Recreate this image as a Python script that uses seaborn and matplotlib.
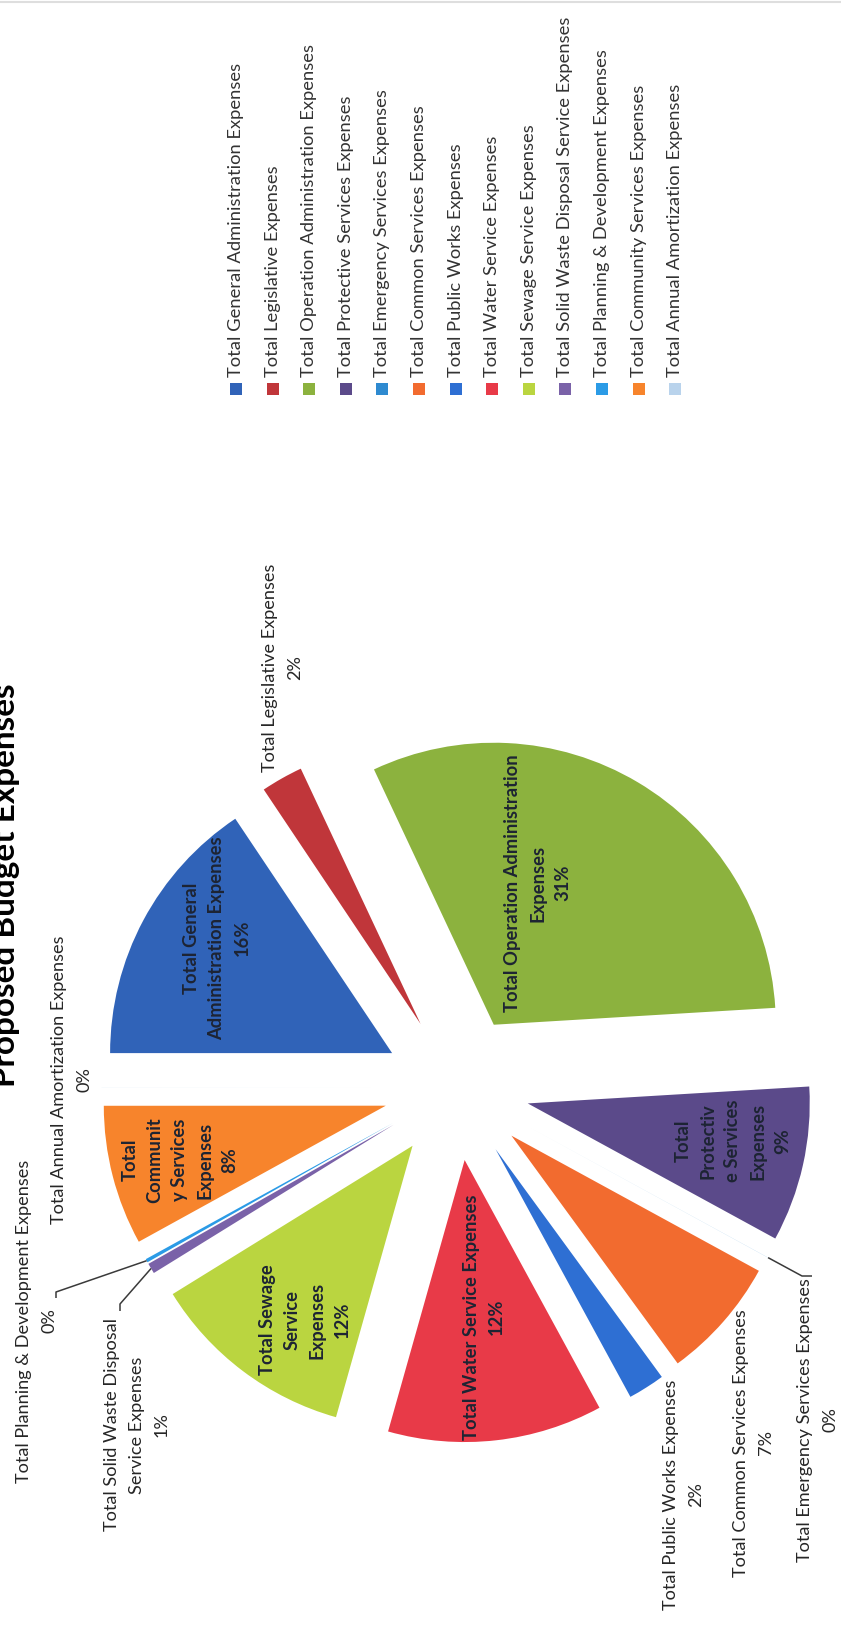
import matplotlib
matplotlib.use("Agg")
import matplotlib.pyplot as plt
import seaborn as sns
import numpy as np

# ---------------- data ----------------
categories = [
    "Total General Administration Expenses",
    "Total Legislative Expenses",
    "Total Operation Administration Expenses",
    "Total Protective Services Expenses",
    "Total Emergency Services Expenses",
    "Total Common Services Expenses",
    "Total Public Works Expenses",
    "Total Water Service Expenses",
    "Total Sewage Service Expenses",
    "Total Solid Waste Disposal Service Expenses",
    "Total Planning & Development Expenses",
    "Total Community Services Expenses",
    "Total Annual Amortization Expenses",
]
values = [15.6, 2.4, 31.0, 8.9, 0.005, 7.0, 2.1, 12.3, 11.8, 0.6, 0.2, 8.0, 0.005]
label_names = [
    "Total General\nAdministration Expenses",
    "Total Legislative Expenses",
    "Total Operation Administration\nExpenses",
    "Total\nProtectiv\ne Services\nExpenses",
    "Total Emergency Services Expenses",
    "Total Common Services Expenses",
    "Total Public Works Expenses",
    "Total Water Service Expenses",
    "Total Sewage\nService\nExpenses",
    "Total Solid Waste Disposal\nService Expenses",
    "Total Planning & Development Expenses",
    "Total\nCommunit\ny Services\nExpenses",
    "Total Annual Amortization Expenses",
]
inside = [True, False, True, True, False, False, False, True, True, False, False, True, False]
colors = ["#3063B8", "#C0363A", "#8CB23E", "#5B4A8A", "#2E8AD0", "#F26B2F", "#2E6FD3",
          "#E83A48", "#BAD540", "#7A62A8", "#2B9BE6", "#F7842C", "#B9D3EC"]
title = "Proposed Budget Expenses"

# ---------------- layout (page is rotated 90 deg CCW) ----------------
W, H = 841, 1649
PIE_CENTER = (456.5, 1088.5)
RADIUS = 282
EXPLODE = 73
label_pos = [(217, 938), (283, 668), (538, 883), (733, 1141), (818, 1420), (754, 1443),
             (684, 1495), (484, 1317), (305, 1320), (137, 1425), (37, 1321), (180, 1160),
             (72, 1080)]
leader_elbows = {4: [(802, 1277), (812, 1277)],
                 9: [(120, 1305), (120, 1312)],
                 10: [(56, 1293), (56, 1299)]}
LINE_STEP = 25
FONT = "Lato"

sns.set_theme(style="white")
plt.rcParams["font.family"] = [FONT, "DejaVu Sans"]

fig = plt.figure(figsize=(W / 100, H / 100), dpi=100)
ax = fig.add_axes([0, 0, 1, 1])


def P(x, y):
    return x, H - y


total = sum(values)
pct = [f"{round(v / total * 100):d}%" for v in values]

wedges, _ = ax.pie(values, colors=colors, startangle=180, counterclock=False,
                   radius=RADIUS, center=P(*PIE_CENTER), explode=[EXPLODE] * len(values),
                   wedgeprops=dict(linewidth=0, edgecolor="none", antialiased=True))
ax.set_xlim(0, W)
ax.set_ylim(0, H)
ax.set_aspect("auto")
ax.axis("off")

renderer = fig.canvas.get_renderer()


def fit(s, target, weight="normal"):
    t = fig.text(0, 0, s, fontsize=20, fontweight=weight, family=FONT)
    w = t.get_window_extent(renderer).width
    t.remove()
    return 20 * target / w


out_size = fit("Total Legislative Expenses", 209)
leg_size = fit("Total General Administration Expenses", 315)
in_size = fit("Total Operation Administration", 257, "bold")
title_size = fit(title, 404, "bold")


def draw_lines(x, y, lines, size, weight, color):
    n = len(lines)
    for i, ln in enumerate(lines):
        xx = x + (i - (n - 1) / 2) * LINE_STEP
        ax.text(*P(xx, y), ln, rotation=90, rotation_mode="anchor", ha="center",
                va="center", fontsize=size, fontweight=weight, color=color, family=FONT)


for i, w in enumerate(wedges):
    lines = label_names[i].split("\n") + [pct[i]]
    x, y = label_pos[i]
    if inside[i]:
        draw_lines(x, y, lines, in_size, "bold", "#1d2433")
    else:
        draw_lines(x, y, lines, out_size, "normal", "#262626")
    if i in leader_elbows:
        mid = np.deg2rad((w.theta1 + w.theta2) / 2)
        cx, cy = w.center
        ox, oy = cx + w.r * np.cos(mid), cy + w.r * np.sin(mid)
        pts = [(ox, oy)] + [P(*p) for p in leader_elbows[i]]
        ax.plot([p[0] for p in pts], [p[1] for p in pts], color="#3a3a3a", lw=1.1,
                solid_capstyle="butt")

# legend (rotated)
LEG_X0, LEG_DX, LEG_MARK_Y, LEG_TEXT_Y = 236, 36.6, 390, 377
for i, name in enumerate(categories):
    lx = LEG_X0 + i * LEG_DX
    ax.scatter(*P(lx, LEG_MARK_Y), marker="s", s=70, color=colors[i], linewidths=0)
    ax.text(*P(lx, LEG_TEXT_Y), name, rotation=90, rotation_mode="anchor", ha="left",
            va="center", fontsize=leg_size, color="#333333", family=FONT)

# title (cut by the page edge, as in the scan)
ax.text(*P(15, 885), title, rotation=90, rotation_mode="anchor", ha="center",
        va="baseline", fontsize=title_size, fontweight="bold", color="black", family=FONT)

# faint scan edge at top of page
ax.plot([0, W], [H - 3, H - 3], color="#dedede", lw=1.5)

fig.savefig("out.png", dpi=100)
